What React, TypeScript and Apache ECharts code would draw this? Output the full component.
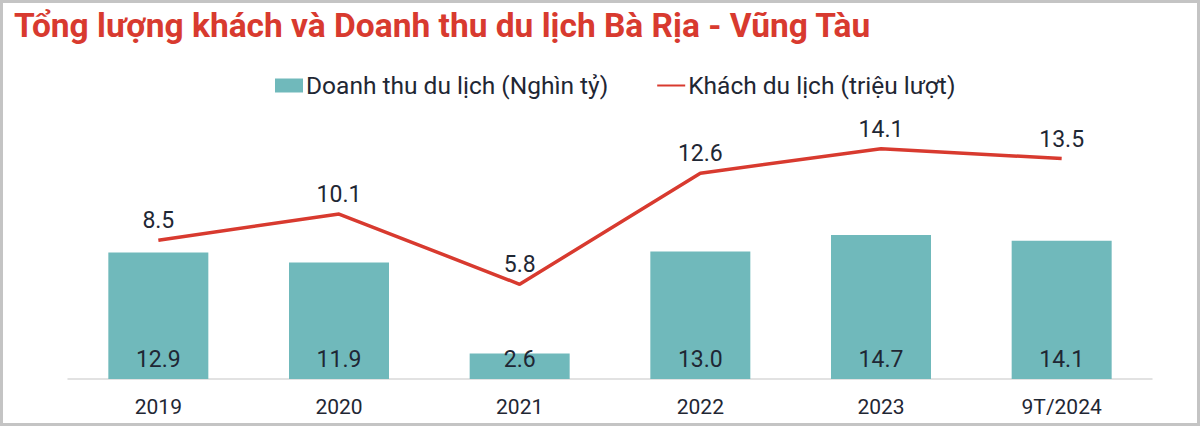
import React, { useEffect, useRef } from "react";
import * as echarts from "echarts";

const titleText = "Tổng lượng khách và Doanh thu du lịch Bà Rịa - Vũng Tàu";
const categories = ["2019", "2020", "2021", "2022", "2023", "9T/2024"];
const revenueName = "Doanh thu du lịch (Nghìn tỷ)";
const revenue = [12.9, 11.9, 2.6, 13.0, 14.7, 14.1];
const visitorsName = "Khách du lịch (triệu lượt)";
const visitors = [8.5, 10.1, 5.8, 12.6, 14.1, 13.5];

const FONT = "Roboto";
const TEXT = "#1f2734";
const RED = "#d83a2f";
const TEAL = "#70b9bb";

export default function App() {
  const ref = useRef<HTMLDivElement>(null);
  useEffect(() => {
    document.body.style.margin = "0";
    const chart = echarts.init(ref.current!, null, { renderer: "svg" });
    chart.setOption({
      animation: false,
      backgroundColor: "#ffffff",
      textStyle: { fontFamily: FONT },
      title: {
        text: titleText,
        left: 9,
        top: 3,
        textStyle: { fontFamily: FONT, fontSize: 33.5, fontWeight: "bold", color: RED },
      },
      graphic: [
        {
          type: "rect",
          shape: { x: 1.5, y: 1.5, width: 1197, height: 423 },
          style: { fill: "none", stroke: "#c4c4c4", lineWidth: 3 },
          silent: true,
          z: 100,
        },
      ],
      legend: {
        top: 68,
        left: 270,
        itemGap: 48,
        itemWidth: 28,
        itemHeight: 14,
        textStyle: { fontFamily: FONT, fontSize: 24.5, color: TEXT, padding: [0, 0, 0, -2] },
        data: [
          { name: revenueName, icon: "rect" },
          { name: visitorsName, itemStyle: { opacity: 0 } },
        ],
      },
      grid: { left: 68, right: 48, top: 134, bottom: 48, containLabel: false },
      xAxis: {
        type: "category",
        data: categories,
        axisLine: { show: true, lineStyle: { color: "#d9d9d9", width: 1.5 } },
        axisTick: { show: false },
        axisLabel: { fontFamily: FONT, fontSize: 21, color: TEXT, margin: 17 },
      },
      yAxis: [
        { type: "value", min: 0, max: 25, show: false, splitLine: { show: false } },
        { type: "value", min: 0, max: 15, show: false, splitLine: { show: false } },
      ],
      series: [
        {
          name: revenueName,
          type: "bar",
          yAxisIndex: 0,
          barWidth: 100,
          data: revenue,
          itemStyle: { color: TEAL },
          label: {
            show: true,
            position: "insideBottom",
            distance: 8,
            fontFamily: FONT,
            fontSize: 23,
            color: TEXT,
            formatter: (p: any) => Number(p.value).toFixed(1),
          },
        },
        {
          name: visitorsName,
          type: "line",
          yAxisIndex: 1,
          data: visitors,
          symbol: "circle",
          symbolSize: 0,
          showSymbol: true,
          lineStyle: { color: RED, width: 3.5 },
          itemStyle: { color: RED },
          label: {
            show: true,
            position: "top",
            distance: 8,
            fontFamily: FONT,
            fontSize: 23,
            color: TEXT,
            formatter: (p: any) => Number(p.value).toFixed(1),
          },
        },
      ],
    });
    return () => chart.dispose();
  }, []);
  return <div ref={ref} style={{ width: 1200, height: 427 }} />;
}
